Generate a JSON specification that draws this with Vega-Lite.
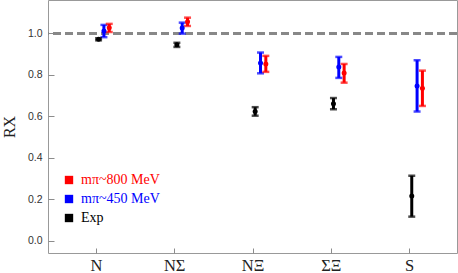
{
  "$schema": "https://vega.github.io/schema/vega-lite/v6.json",
  "width": 409,
  "height": 253,
  "autosize": {"type": "none"},
  "padding": {"left": 48, "top": 0, "right": 1, "bottom": 20},
  "config": {
    "view": {"stroke": "#999999", "strokeWidth": 1},
    "axis": {"domain": false, "grid": false}
  },
  "data": {
    "values": [
      {"cat": "N", "series": "Exp", "val": 0.971, "lo": 0.966, "hi": 0.976},
      {"cat": "N", "series": "450", "val": 1.011, "lo": 0.981, "hi": 1.04},
      {"cat": "N", "series": "800", "val": 1.026, "lo": 1.006, "hi": 1.045},
      {"cat": "NΣ", "series": "Exp", "val": 0.944, "lo": 0.934, "hi": 0.954},
      {"cat": "NΣ", "series": "450", "val": 1.025, "lo": 0.998, "hi": 1.051},
      {"cat": "NΣ", "series": "800", "val": 1.055, "lo": 1.035, "hi": 1.075},
      {"cat": "NΞ", "series": "Exp", "val": 0.623, "lo": 0.603, "hi": 0.644},
      {"cat": "NΞ", "series": "450", "val": 0.857, "lo": 0.807, "hi": 0.907},
      {"cat": "NΞ", "series": "800", "val": 0.852, "lo": 0.814, "hi": 0.891},
      {"cat": "ΣΞ", "series": "Exp", "val": 0.661, "lo": 0.634, "hi": 0.688},
      {"cat": "ΣΞ", "series": "450", "val": 0.838, "lo": 0.785, "hi": 0.886},
      {"cat": "ΣΞ", "series": "800", "val": 0.809, "lo": 0.762, "hi": 0.852},
      {"cat": "S", "series": "Exp", "val": 0.217, "lo": 0.117, "hi": 0.314},
      {"cat": "S", "series": "450", "val": 0.746, "lo": 0.623, "hi": 0.87},
      {"cat": "S", "series": "800", "val": 0.735, "lo": 0.65, "hi": 0.82}
    ]
  },
  "encoding": {
    "x": {
      "field": "cat",
      "type": "nominal",
      "sort": ["N", "NΣ", "NΞ", "ΣΞ", "S"],
      "scale": {"type": "point", "padding": 0.612},
      "axis": {
        "title": null,
        "labelAngle": 0,
        "labelFont": "Liberation Serif",
        "labelFontSize": 16.5,
        "labelColor": "#222222",
        "ticks": true,
        "tickColor": "#8c8c8c",
        "tickWidth": 1,
        "tickSize": -5,
        "labelPadding": 9
      }
    },
    "xOffset": {
      "field": "series",
      "type": "nominal",
      "scale": {"domain": ["Exp", "450", "800"], "range": [0, 16]}
    },
    "color": {
      "field": "series",
      "type": "nominal",
      "scale": {"domain": ["800", "450", "Exp"], "range": ["#ff0000", "#0000ff", "#000000"]},
      "legend": {
        "title": null,
        "orient": "none",
        "legendX": 14,
        "legendY": 173,
        "symbolType": "square",
        "symbolSize": 70,
        "symbolStrokeWidth": 0,
        "symbolOpacity": 1,
        "labelFont": "Liberation Serif",
        "labelFontSize": 14,
        "labelOffset": 5,
        "rowPadding": 5,
        "labelExpr": "datum.value == '800' ? 'mπ~800 MeV' : datum.value == '450' ? 'mπ~450 MeV' : 'Exp'",
        "encode": {
          "labels": {
            "update": {
              "fill": {"signal": "datum.value == '800' ? '#ff0000' : datum.value == '450' ? '#0000ff' : '#000000'"}
            }
          },
          "symbols": {
            "update": {
              "fill": {"signal": "datum.value == '800' ? '#ff0000' : datum.value == '450' ? '#0000ff' : '#000000'"}
            }
          }
        }
      }
    }
  },
  "layer": [
    {
      "mark": {"type": "rule", "strokeDash": [8, 4], "color": "#888888", "strokeWidth": 2.5},
      "encoding": {
        "y": {
          "datum": 1,
          "type": "quantitative",
          "title": "RX",
          "scale": {"domain": [-0.058, 1.16], "nice": false, "zero": false},
          "axis": {
            "title": "RX",
            "titleFont": "Liberation Serif",
            "titleFontSize": 16,
            "titleFontWeight": "normal",
            "titleColor": "#222222",
            "titlePadding": 10,
            "values": [0, 0.2, 0.4, 0.6, 0.8, 1.0],
            "format": ".1f",
            "labelOverlap": false,
            "labelFont": "Liberation Sans",
            "labelFontSize": 10.5,
            "labelColor": "#333333",
            "ticks": true,
            "tickColor": "#8c8c8c",
            "tickWidth": 1,
            "tickSize": -6,
            "labelPadding": 12
          }
        },
        "x": null,
        "xOffset": null,
        "color": null
      }
    },
    {
      "mark": {"type": "rule", "strokeWidth": 3},
      "encoding": {
        "y": {"field": "lo", "type": "quantitative", "title": "RX"},
        "y2": {"field": "hi"}
      }
    },
    {
      "mark": {"type": "tick", "size": 7, "thickness": 2.5},
      "encoding": {"y": {"field": "lo", "type": "quantitative", "title": "RX"}}
    },
    {
      "mark": {"type": "tick", "size": 7, "thickness": 2.5},
      "encoding": {"y": {"field": "hi", "type": "quantitative", "title": "RX"}}
    },
    {
      "mark": {"type": "point", "filled": true, "size": 25, "opacity": 1},
      "encoding": {"y": {"field": "val", "type": "quantitative", "title": "RX"}}
    }
  ]
}
